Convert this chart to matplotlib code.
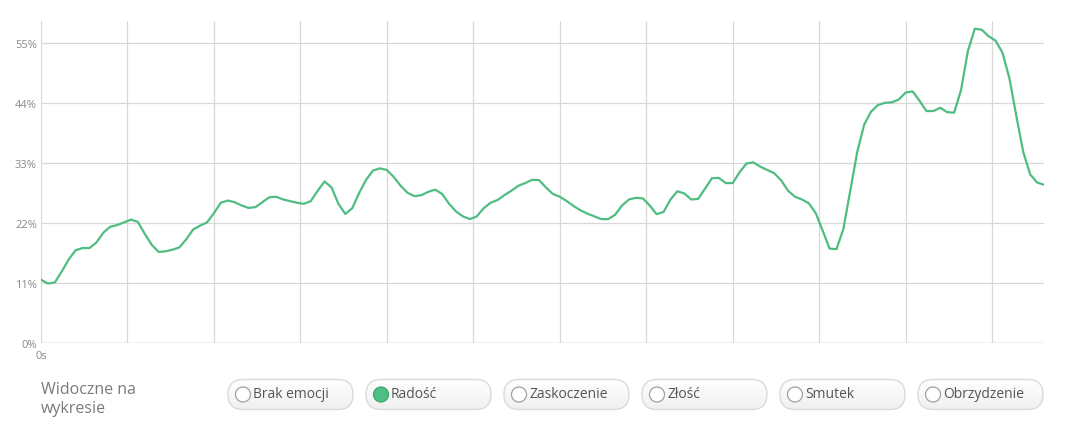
import numpy as np
import matplotlib
matplotlib.use("Agg")
from matplotlib import pyplot as plt
from matplotlib.patches import FancyBboxPatch, Circle
from matplotlib.colors import LinearSegmentedColormap

plt.rcParams['font.family'] = ['Open Sans', 'DejaVu Sans']

# udział emocji "Radość" w kolejnych próbkach (%)
joy = [
    11.6, 10.9, 11.1, 13.1, 15.3, 17.0, 17.4, 17.4, 18.4, 20.2,
    21.3, 21.6, 22.1, 22.6, 22.2, 20.0, 18.0, 16.7, 16.8, 17.1,
    17.5, 19.0, 20.8, 21.5, 22.1, 23.8, 25.7, 26.1, 25.8, 25.2,
    24.75, 24.9, 25.8, 26.7, 26.8, 26.3, 26.0, 25.7, 25.5, 26.0,
    27.9, 29.6, 28.5, 25.5, 23.65, 24.7, 27.5, 29.9, 31.6, 32.0,
    31.7, 30.4, 28.8, 27.5, 26.9, 27.1, 27.7, 28.1, 27.3, 25.5,
    24.1, 23.2, 22.7, 23.2, 24.7, 25.7, 26.2, 27.1, 27.9, 28.8,
    29.3, 29.9, 29.85, 28.5, 27.3, 26.8, 26.0, 25.1, 24.3, 23.7,
    23.2, 22.7, 22.7, 23.5, 25.2, 26.3, 26.6, 26.5, 25.2, 23.6,
    24.0, 26.3, 27.8, 27.4, 26.3, 26.4, 28.3, 30.2, 30.25, 29.3,
    29.3, 31.3, 32.9, 33.1, 32.3, 31.7, 31.1, 29.8, 27.9, 26.8,
    26.3, 25.6, 23.8, 20.6, 17.3, 17.2, 20.9, 28.0, 35.0, 40.0,
    42.4, 43.6, 44.0, 44.1, 44.6, 45.9, 46.1, 44.4, 42.5, 42.5,
    43.1, 42.3, 42.2, 46.3, 53.5, 57.6, 57.4, 56.2, 55.4, 53.2,
    48.5, 41.6, 35.0, 30.9, 29.4, 29.0,
]
y_ticks = [0, 11, 22, 33, 44, 55]
emotions = ["Brak emocji", "Radość", "Zaskoczenie", "Złość", "Smutek", "Obrzydzenie"]
selected = "Radość"

W, H = 1084, 431
fig = plt.figure(figsize=(W / 100, H / 100), dpi=100)
fig.patch.set_facecolor('white')

# wykres
ax = fig.add_axes([41 / W, (H - 344) / H, 1003 / W, 322 / H])
x = np.arange(len(joy))
ax.plot(x, joy, color='#4fbd82', lw=1.6, solid_joinstyle='round', zorder=3)
ax.set_xlim(0, len(joy) - 1)
ax.set_ylim(0, 59)
ax.set_yticks(y_ticks)
ax.set_yticklabels([f"{v}%" for v in y_ticks])
ax.xaxis.set_major_locator(plt.MultipleLocator(12.5))
ax.xaxis.set_major_formatter(plt.FuncFormatter(lambda v, p: "0s" if v == 0 else ""))
ax.grid(True, color='#d8d8d8', lw=0.9)
ax.tick_params(length=0, labelsize=8, labelcolor='#8a8a8a', pad=3)
ax.tick_params(axis='x', pad=5)
for s in ax.spines.values():
    s.set_visible(False)
ax.axhline(0, color='#d0d0d0', lw=1.0, zorder=2)

# przełączniki pod wykresem (współrzędne w pikselach)
ui = fig.add_axes([0, 0, 1, 1])
ui.axis('off')
ui.patch.set_alpha(0)

ui.text(41, 390, "Widoczne na", fontsize=11.5, color='#7a7a7a', va='center', ha='left')
ui.text(41, 409, "wykresie", fontsize=11.5, color='#7a7a7a', va='center', ha='left')

grad = np.linspace(0, 1, 64).reshape(-1, 1)
cmap = LinearSegmentedColormap.from_list('pill', ['#ffffff', '#f0f0f0'])
for i, name in enumerate(emotions):
    x0 = 228 + i * 138
    pill = FancyBboxPatch((x0, 380.5), 125, 30,
                          boxstyle="round,pad=0,rounding_size=15",
                          facecolor='none', edgecolor='#dadada', lw=1.0, zorder=3)
    ui.add_patch(pill)
    img = ui.imshow(grad, extent=(x0, x0 + 125, 410.5, 380.5), cmap=cmap,
                    aspect='auto', zorder=2)
    img.set_clip_path(pill)
    on = name == selected
    ui.add_patch(Circle((x0 + 15, 395.5), 7.5,
                        facecolor='#4cbf82' if on else 'white',
                        edgecolor='#3fa872' if on else '#a0a0a0', lw=0.9, zorder=4))
    ui.text(x0 + 25, 395, name, fontsize=10, color='#555555', va='center', ha='left', zorder=5)

ui.set_xlim(0, W)
ui.set_ylim(H, 0)

fig.savefig("out.png", dpi=100)
